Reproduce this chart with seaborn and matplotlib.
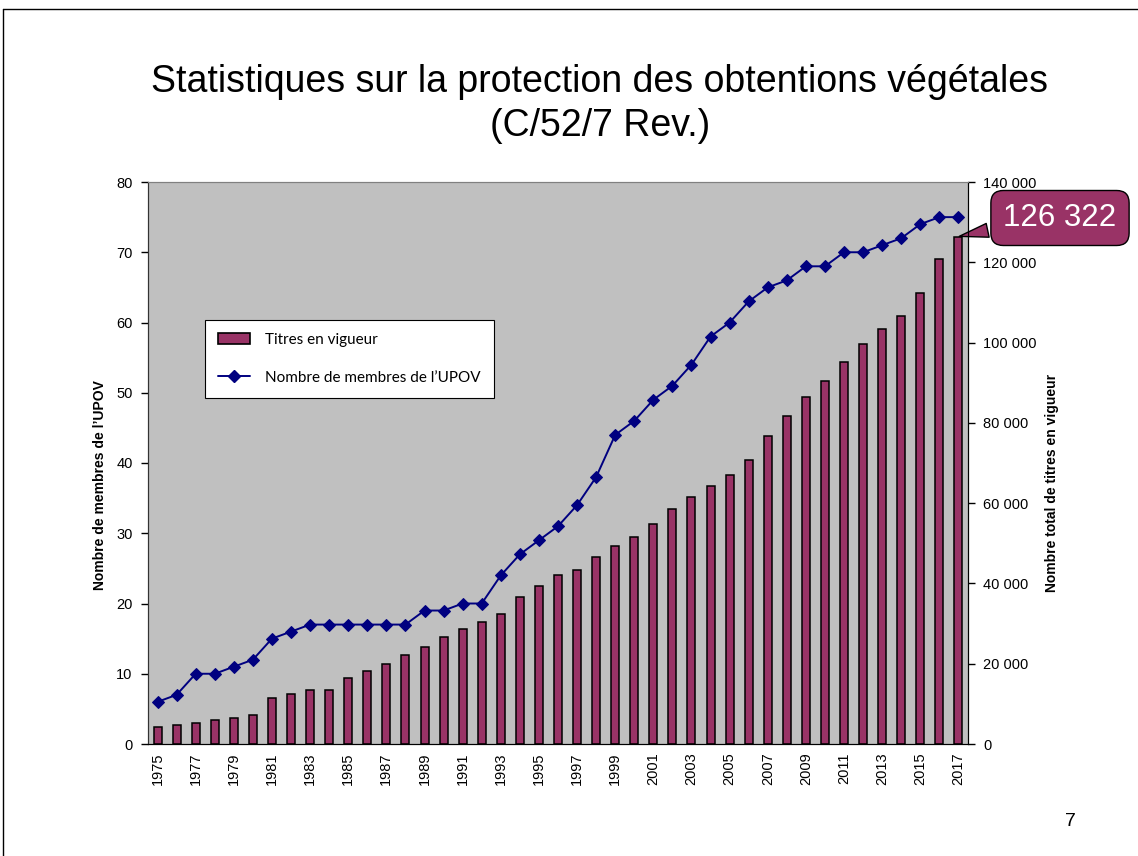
import numpy as np
import pandas as pd
import matplotlib
matplotlib.use("Agg")
import matplotlib.pyplot as plt
import seaborn as sns
from matplotlib.patches import Patch
from matplotlib.lines import Line2D
from matplotlib.ticker import FuncFormatter, FixedLocator

# ── data ─────────────────────────────────────────────────────────────────────
years = list(range(1975, 2018))
titres = [4318, 4816, 5315, 5979, 6477, 7224, 11376, 12373, 13536, 13369,
          16442, 18269, 19847, 22172, 24082, 26739, 28649, 30393, 32303, 36621,
          39444, 42184, 43264, 46502, 49326, 51485, 54723, 58543, 61533, 64356,
          67013, 70833, 76730, 81711, 86528, 90431, 95164, 99648, 103385, 106706,
          112353, 120906, 126322]
membres = [6, 7, 10, 10, 11, 12, 15, 16, 17, 17,
           17, 17, 17, 17, 19, 19, 20, 20, 24, 27,
           29, 31, 34, 38, 44, 46, 49, 51, 54, 58,
           60, 63, 65, 66, 68, 68, 70, 70, 71, 72,
           74, 75, 75]
callout_text = "126 322"

MAROON = "#993366"
NAVY = "#000080"
GREY = "#C0C0C0"

sns.set_style("white")
plt.rcParams["font.family"] = ["Liberation Sans", "DejaVu Sans"]
plt.rcParams.update({"text.color": "black", "axes.labelcolor": "black",
                     "xtick.color": "black", "ytick.color": "black"})

df = pd.DataFrame({"annee": [str(y) for y in years],
                   "titres": titres,
                   "membres": membres,
                   "pos": np.arange(len(years))})

fig = plt.figure(figsize=(11.38, 8.56), dpi=100)
ax = fig.add_axes([148 / 1138, 1 - 744 / 856, 820 / 1138, 562 / 856])
ax2 = ax.twinx()

# bars (right axis)
sns.barplot(data=df, x="annee", y="titres", color=MAROON, width=0.42,
            edgecolor="black", linewidth=1.1, saturation=1, ax=ax2)
# line (left axis)
sns.lineplot(data=df, x="pos", y="membres", color=NAVY, linewidth=1.4,
             marker="D", markersize=6.5, markeredgecolor=NAVY, ax=ax)

ax.set_zorder(ax2.get_zorder() + 1)
ax.patch.set_visible(False)
ax2.patch.set_visible(True)
ax2.patch.set_facecolor(GREY)

n = len(years)
ax.set_xlim(-0.5, n - 0.5)
ax.set_ylim(0, 80)
ax2.set_ylim(0, 140000)

ax.xaxis.set_major_locator(FixedLocator(np.arange(0, n, 2)))
ax.set_xticklabels([str(y) for y in years[::2]], rotation=90, fontsize=10.5)
ax.xaxis.set_minor_locator(FixedLocator(np.arange(-0.5, n, 1)))
ax.tick_params(axis="x", which="major", length=0, pad=6)
ax.tick_params(axis="x", which="minor", length=5, direction="inout", width=1)
ax2.tick_params(axis="x", which="both", bottom=False, labelbottom=False)

ax.set_yticks(np.arange(0, 81, 10))
ax.tick_params(axis="y", length=5, direction="out", width=1, labelsize=10.5, pad=6)
ax2.set_yticks(np.arange(0, 140001, 20000))
ax2.yaxis.set_major_formatter(FuncFormatter(lambda v, p: f"{v:,.0f}".replace(",", " ")))
ax2.tick_params(axis="y", length=5, direction="out", width=1, labelsize=10.5, pad=6)

ax.set_xlabel("")
ax.set_ylabel("")
ax2.set_xlabel("")
ax2.set_ylabel("")

for a in (ax, ax2):
    a.spines["left"].set_color("#333333")
    a.spines["bottom"].set_color("black")
    a.spines["top"].set_color("#808080")
    a.spines["right"].set_color("black")

fig.text(100 / 1138, 1 - 485 / 856, "Nombre de membres de l\u2019UPOV", rotation=90,
         ha="center", va="center", fontsize=10, fontweight="bold")
fig.text(1052 / 1138, 1 - 483 / 856, "Nombre total de titres en vigueur", rotation=90,
         ha="center", va="center", fontsize=10, fontweight="bold")

# legend
handles = [Patch(facecolor=MAROON, edgecolor="black", linewidth=1.2),
           Line2D([0], [0], color=NAVY, lw=1.4, marker="D", markersize=6)]
leg = ax.legend(handles, ["Titres en vigueur", "Nombre de membres de l\u2019UPOV"],
                loc="upper left", bbox_to_anchor=(205 / 1138, 1 - 320 / 856),
                bbox_transform=fig.transFigure, frameon=True, fancybox=False,
                edgecolor="black", framealpha=1, prop={"family": "Lato", "size": 11},
                handlelength=2.1, handletextpad=1.0, labelspacing=1.55,
                borderpad=0.85, borderaxespad=0)
leg.get_frame().set_linewidth(0.8)

# callout for last value
ax2.annotate(callout_text, xy=(n - 1.1, titres[-1]), xycoords="data",
             xytext=(1060 / 1138, 1 - 218 / 856), textcoords="figure fraction",
             ha="center", va="center", fontsize=22.5, color="white",
             bbox=dict(boxstyle="round,pad=0.4,rounding_size=0.4", fc=MAROON,
                       ec="black", lw=1),
             arrowprops=dict(arrowstyle="wedge,tail_width=0.45,shrink_factor=0.5",
                             fc=MAROON, ec="black", lw=1, relpos=(0.0, 0.2)),
             annotation_clip=False, zorder=10)

fig.text(0.527, 1 - 104 / 856,
         "Statistiques sur la protection des obtentions végétales\n(C/52/7 Rev.)",
         ha="center", va="center", fontsize=27, linespacing=1.32)

fig.text(1070 / 1138, 1 - 822 / 856, "7", ha="center", va="center", fontsize=14)

# slide frame
fig.add_artist(Line2D([3 / 1138, 1.0], [1 - 9 / 856, 1 - 9 / 856],
                      transform=fig.transFigure, color="black", lw=1))
fig.add_artist(Line2D([3 / 1138, 3 / 1138], [0, 1 - 9 / 856],
                      transform=fig.transFigure, color="black", lw=1))

fig.savefig("out.png", dpi=100)
